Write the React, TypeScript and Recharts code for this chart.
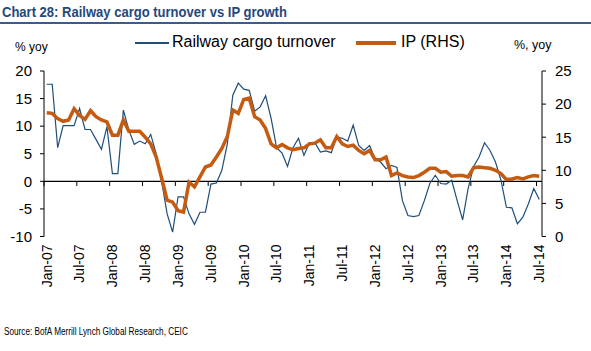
import { Line, LineChart, ReferenceLine, XAxis, YAxis } from "recharts";

const monthNames = ["Jan", "Feb", "Mar", "Apr", "May", "Jun", "Jul", "Aug", "Sep", "Oct", "Nov", "Dec"];
const years = ["07", "08", "09", "10", "11", "12", "13", "14"];
// Jan-07 .. Jul-14, monthly
const months = years.flatMap((y) => monthNames.map((m) => `${m}-${y}`)).slice(0, 91);

// % yoy, left axis
const railCargo = [
  17.6, 17.6, 6.1, 10.1, 10.1, 10.1, 13.2, 9.4, 9.4, 7.6,
  5.8, 9.9, 1.4, 1.4, 12.9, 9.3, 6.7, 7.3, 6.8, 8.5,
  5.0, 0.0, -5.9, -9.2, -2.8, -2.8, -5.9, -7.8, -5.6, -5.6,
  -0.5, -0.3, 2.0, 6.8, 15.6, 17.8, 16.7, 16.5, 12.7, 13.5,
  15.5, 11.4, 6.1, 5.1, 2.7, 6.1, 7.8, 4.7, 7.0, 7.0,
  5.3, 5.5, 5.2, 8.1, 7.8, 7.3, 10.2, 6.5, 5.6, 6.5,
  4.1, 3.5, 2.3, 2.9, 2.5, -3.5, -6.2, -6.4, -6.2, -3.5,
  -0.4, 1.1, -0.4, -0.5, 0.2, -3.5, -7.0, -1.3, 2.7, 4.4,
  7.0, 5.6, 3.5, 0.2, -4.7, -4.8, -7.7, -6.5, -4.1, -1.3,
  -3.3,
];

// %, yoy, right axis
const ipGrowth = [
  18.7, 18.6, 17.8, 17.4, 17.6, 19.3, 18.3, 17.7, 19.0, 18.1,
  17.6, 17.3, 15.3, 15.3, 17.6, 15.9, 15.9, 15.9, 15.0, 14.0,
  12.0, 8.8, 5.5, 5.2, 3.9, 3.7, 8.2, 7.5, 9.0, 10.5,
  10.8, 12.0, 13.3, 15.1, 19.1, 18.6, 20.7, 20.9, 18.1, 17.6,
  16.3, 14.0, 13.4, 13.9, 13.4, 13.1, 13.3, 13.4, 14.0, 14.1,
  14.6, 13.4, 13.4, 15.1, 14.0, 13.6, 13.8, 13.0, 12.5, 13.0,
  11.6, 11.6, 12.0, 9.2, 9.6, 9.2, 9.0, 8.9, 9.2, 9.7,
  10.3, 10.3, 9.7, 9.8, 9.1, 9.2, 9.2, 9.0, 10.4, 10.5,
  10.4, 10.3, 10.0, 9.5, 8.6, 8.7, 8.9, 8.7, 9.0, 9.2,
  9.1,
];

const leftTicks = [-10, -5, 0, 5, 10, 15, 20];
const rightTicks = [0, 5, 10, 15, 20, 25];
const labelMonths = months.filter((_, i) => i % 6 === 0);

const data = months.map((month, i) => ({ month, rail: railCargo[i], ip: ipGrowth[i] }));

const BLUE = "#1f4e79";
const ORANGE = "#c55a11";
const FONT = "'Liberation Sans', Arial, sans-serif";

const XTick = ({ x, y, payload }: any) => (
  <text
    x={x}
    y={y}
    transform={`rotate(-90 ${x} ${y})`}
    textAnchor="end"
    dy="0.35em"
    fontSize={14}
    fill="#000"
    style={{ fontFamily: FONT }}
  >
    {payload.value}
  </text>
);

export default function App() {
  return (
    <div style={{ position: "absolute", left: 0, top: 0, width: 591, height: 351, background: "#fff", fontFamily: FONT }}>
      <div
        style={{
          position: "absolute",
          left: 2,
          top: 3,
          fontWeight: "bold",
          fontSize: 15.5,
          color: "#1f497d",
          whiteSpace: "nowrap",
          transform: "scaleX(0.84)",
          transformOrigin: "left top",
        }}
      >
        Chart 28: Railway cargo turnover vs IP growth
      </div>
      <div style={{ position: "absolute", left: 0, top: 22, width: 591, height: 2, background: "#3c5c8a" }} />

      <div style={{ position: "absolute", left: 15, top: 40, fontSize: 12, color: "#000" }}>% yoy</div>
      <div style={{ position: "absolute", left: 514, top: 38, fontSize: 12.5, color: "#000" }}>%, yoy</div>
      <div style={{ position: "absolute", left: 135, top: 42, width: 34, height: 1.5, background: BLUE }} />
      <div style={{ position: "absolute", left: 172, top: 33, fontSize: 16, color: "#000", whiteSpace: "nowrap" }}>
        Railway cargo turnover
      </div>
      <div style={{ position: "absolute", left: 356, top: 41, width: 40, height: 4, background: ORANGE }} />
      <div style={{ position: "absolute", left: 401, top: 33, fontSize: 16, color: "#000", whiteSpace: "nowrap" }}>
        IP (RHS)
      </div>

      <div style={{ position: "absolute", left: 0, top: 0 }}>
        <LineChart width={591} height={351} data={data} margin={{ top: 71, right: 0, left: 0, bottom: 54.5 }}>
          <XAxis
            dataKey="month"
            scale="band"
            interval={5}
            axisLine={false}
            tickLine={false}
            height={60}
            tick={<XTick />}
          />
          <YAxis
            yAxisId="left"
            domain={[-10, 20]}
            ticks={leftTicks}
            width={44}
            axisLine={{ stroke: "#000" }}
            tickLine={{ stroke: "#000" }}
            tickSize={4}
            tickMargin={8}
            tick={{ fill: "#000", fontSize: 15 }}
          />
          <YAxis
            yAxisId="right"
            orientation="right"
            domain={[0, 25]}
            ticks={rightTicks}
            width={49}
            axisLine={{ stroke: "#000" }}
            tickLine={{ stroke: "#000" }}
            tickSize={4}
            tickMargin={9}
            tick={{ fill: "#000", fontSize: 15, textAnchor: "start" }}
          />
          <ReferenceLine yAxisId="left" y={0} stroke="#000" strokeWidth={1.3} />
          {labelMonths.map((m) => (
            <ReferenceLine
              key={m}
              yAxisId="left"
              position="start"
              segment={[
                { x: m, y: 0 },
                { x: m, y: -0.85 },
              ]}
              stroke="#000"
            />
          ))}
          <Line
            yAxisId="left"
            type="linear"
            dataKey="rail"
            stroke={BLUE}
            strokeWidth={1.2}
            dot={false}
            isAnimationActive={false}
          />
          <Line
            yAxisId="right"
            type="linear"
            dataKey="ip"
            stroke={ORANGE}
            strokeWidth={3.5}
            dot={false}
            isAnimationActive={false}
          />
        </LineChart>
      </div>

      <div
        style={{
          position: "absolute",
          left: 4,
          top: 326,
          fontSize: 10,
          color: "#000",
          whiteSpace: "nowrap",
          transform: "scaleX(0.82)",
          transformOrigin: "left top",
        }}
      >
        Source: BofA Merrill Lynch Global Research, CEIC
      </div>
    </div>
  );
}
